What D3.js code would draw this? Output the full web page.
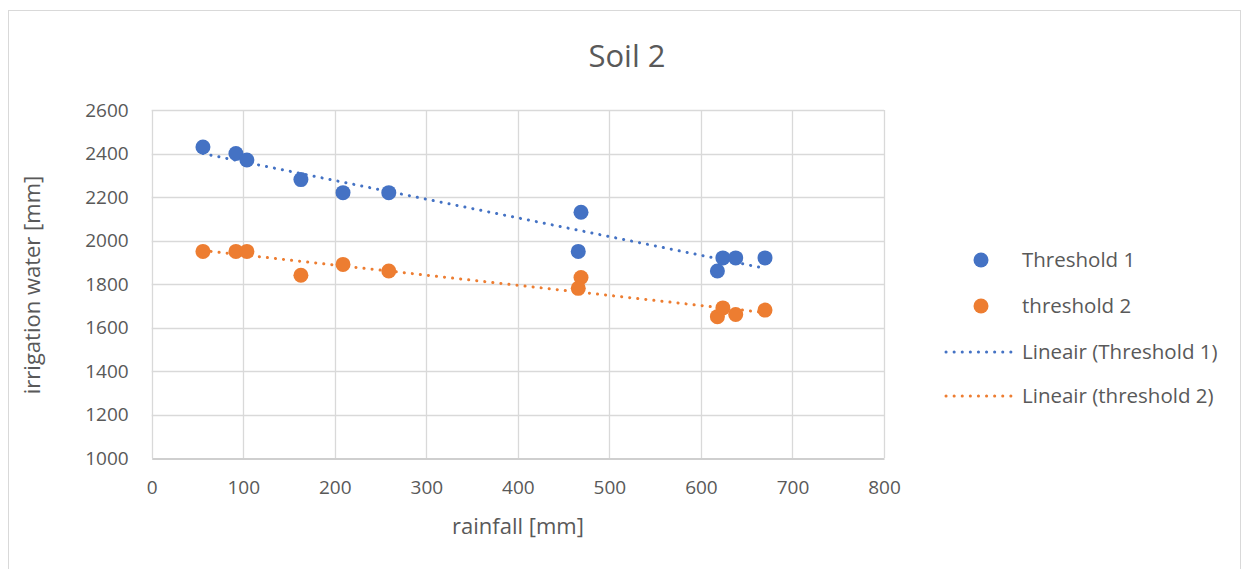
<!DOCTYPE html>
<html>
<head>
<meta charset="utf-8">
<script src="https://cdn.jsdelivr.net/npm/d3@7"></script>
<style>
  html, body { margin: 0; padding: 0; background: #fff; }
  svg text { font-family: "Open Sans", "Noto Sans", sans-serif; fill: #595959; }
</style>
</head>
<body>
<svg id="chart" width="1245" height="569"></svg>
<script>
// Rainfall (mm) and irrigation water (mm) for the two thresholds
const rainfall    = [56, 92, 104, 163, 209, 259, 469, 466, 618, 624, 638, 670];
const threshold1  = [2430, 2400, 2370, 2280, 2220, 2220, 2130, 1950, 1860, 1920, 1920, 1920];
const threshold2  = [1950, 1950, 1950, 1840, 1890, 1860, 1830, 1780, 1650, 1690, 1660, 1680];
const xTicks = [0, 100, 200, 300, 400, 500, 600, 700, 800];
const yTicks = [1000, 1200, 1400, 1600, 1800, 2000, 2200, 2400, 2600];
const seriesNames = ["Threshold 1", "threshold 2"];
const colors = ["#4472c4", "#ed7d31"];

const svg = d3.select("#chart");

// outer chart frame
svg.append("rect")
  .attr("x", 8.5).attr("y", 10.5).attr("width", 1232).attr("height", 580)
  .attr("fill", "#fff").attr("stroke", "#d9d9d9").attr("stroke-width", 1);

const x = d3.scaleLinear().domain([0, 800]).range([151.7, 884]);
const y = d3.scaleLinear().domain([1000, 2600]).range([458, 110]);

// gridlines
const grid = svg.append("g");
grid.selectAll("line.v").data(xTicks).join("line")
  .attr("x1", d => Math.round(x(d)) + 0.5).attr("x2", d => Math.round(x(d)) + 0.5)
  .attr("y1", y(2600)).attr("y2", y(1000))
  .attr("stroke", "#d9d9d9").attr("stroke-width", 1.3);
grid.selectAll("line.h").data(yTicks.filter(d => d > 1000)).join("line")
  .attr("x1", x(0)).attr("x2", x(800))
  .attr("y1", d => Math.round(y(d)) + 0.5).attr("y2", d => Math.round(y(d)) + 0.5)
  .attr("stroke", "#d9d9d9").attr("stroke-width", 1.3);

// axes
const xAxis = d3.axisBottom(x).tickValues(xTicks).tickFormat(d3.format("d")).tickSize(0).tickPadding(22);
const gx = svg.append("g").attr("transform", `translate(0,${Math.round(y(1000)) + 0.5})`).call(xAxis);
gx.select(".domain").attr("stroke", "#bfbfbf").attr("stroke-width", 1.3);
gx.selectAll("text").attr("font-size", 19).attr("fill", "#595959")
  .style("font-family", "'Open Sans', sans-serif");

const yAxis = d3.axisLeft(y).tickValues(yTicks).tickFormat(d3.format("d")).tickSize(0).tickPadding(23);
const gy = svg.append("g").attr("transform", `translate(${x(0)},0)`).call(yAxis);
gy.select(".domain").remove();
gy.selectAll("text").attr("font-size", 19).attr("fill", "#595959")
  .style("font-family", "'Open Sans', sans-serif");

// titles
svg.append("text").attr("x", 627).attr("y", 67).attr("text-anchor", "middle")
  .attr("font-size", 31).text("Soil 2");
svg.append("text").attr("x", 518).attr("y", 534).attr("text-anchor", "middle")
  .attr("font-size", 22).text("rainfall [mm]");
svg.append("text").attr("transform", "translate(40,285) rotate(-90)").attr("text-anchor", "middle")
  .attr("font-size", 22).text("irrigation water [mm]");

// least-squares trend line
function linearFit(xs, ys) {
  const n = xs.length;
  const mx = d3.mean(xs), my = d3.mean(ys);
  let sxy = 0, sxx = 0;
  for (let i = 0; i < n; i++) { sxy += (xs[i] - mx) * (ys[i] - my); sxx += (xs[i] - mx) ** 2; }
  const b = sxy / sxx, a = my - b * mx;
  return v => a + b * v;
}

const seriesValues = [threshold1, threshold2];
const xMin = d3.min(rainfall), xMax = d3.max(rainfall);

seriesValues.forEach((vals, i) => {
  const f = linearFit(rainfall, vals);
  svg.append("line")
    .attr("x1", x(xMin)).attr("y1", y(f(xMin)))
    .attr("x2", x(xMax)).attr("y2", y(f(xMax)))
    .attr("stroke", colors[i]).attr("stroke-width", 3)
    .attr("stroke-linecap", "round").attr("stroke-dasharray", "0.1 8");
});

seriesValues.forEach((vals, i) => {
  svg.append("g").selectAll("circle").data(rainfall.map((r, k) => [r, vals[k]])).join("circle")
    .attr("cx", d => x(d[0])).attr("cy", d => y(d[1])).attr("r", 7.5)
    .attr("fill", colors[i]);
});

// legend
const legend = svg.append("g");
const legY = [260, 306, 352, 396];
seriesNames.forEach((name, i) => {
  legend.append("circle").attr("cx", 981).attr("cy", legY[i]).attr("r", 7.5).attr("fill", colors[i]);
  legend.append("text").attr("x", 1022).attr("y", legY[i] + 7).attr("font-size", 20.5).text(name);
});
seriesNames.forEach((name, i) => {
  const yy = legY[i + 2];
  legend.append("line").attr("x1", 946).attr("x2", 1015).attr("y1", yy).attr("y2", yy)
    .attr("stroke", colors[i]).attr("stroke-width", 3)
    .attr("stroke-linecap", "round").attr("stroke-dasharray", "0.1 8");
  legend.append("text").attr("x", 1022).attr("y", yy + 7).attr("font-size", 20.5)
    .text(`Lineair (${name})`);
});
</script>
</body>
</html>
